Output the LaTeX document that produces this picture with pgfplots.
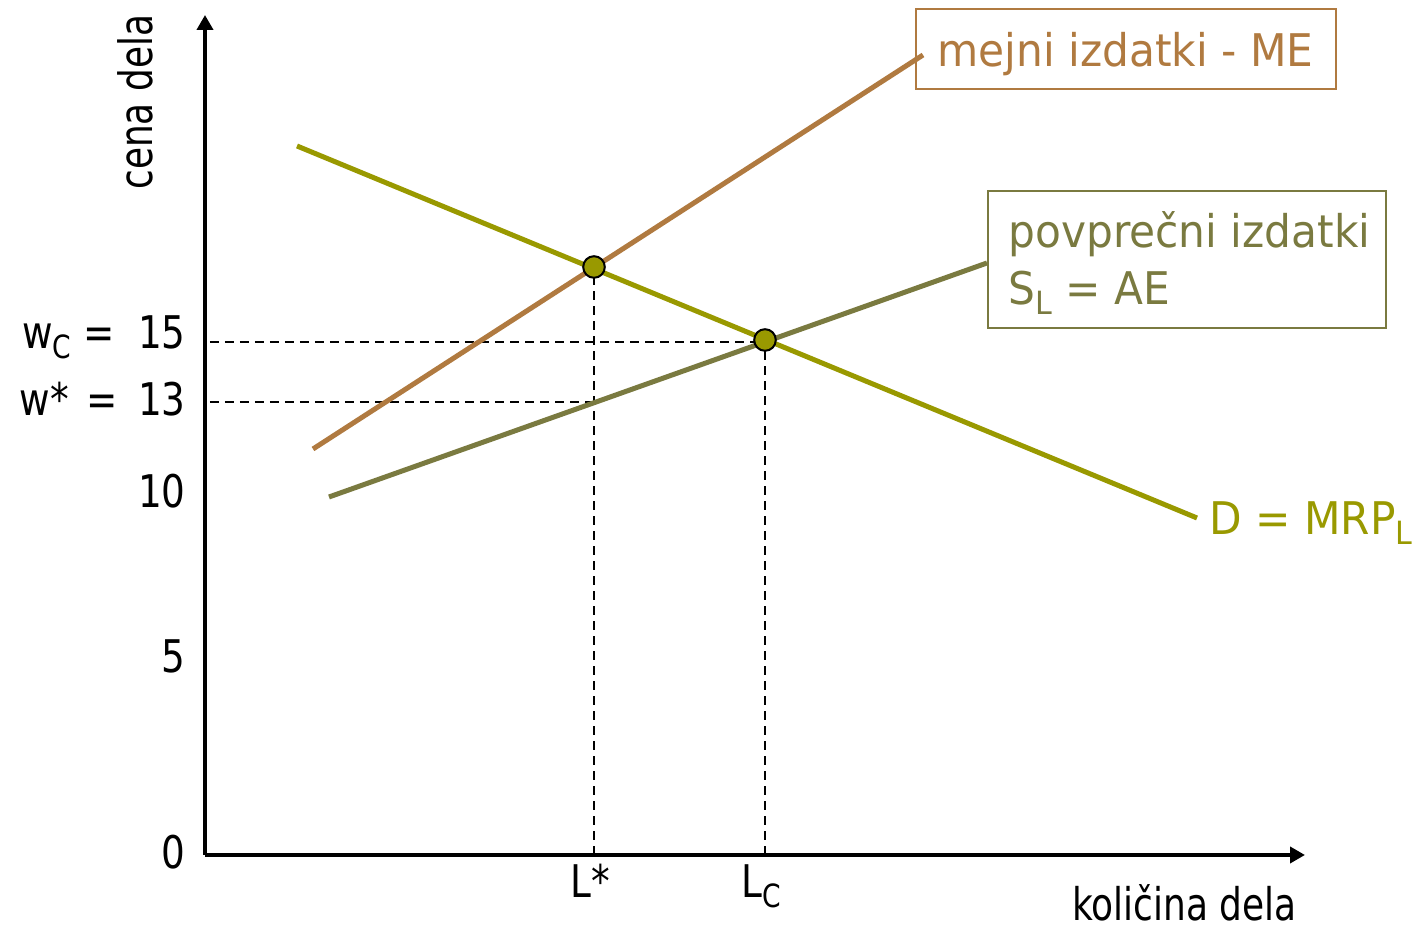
\documentclass[border=0pt]{standalone}
\usepackage{pgfplots}
\pgfplotsset{compat=1.18}
\usepackage{fontspec}
\usepackage{graphicx}
\setmainfont{DejaVu Sans}[FakeStretch=0.94]
\newfontfamily\tickfont{DejaVu Sans}[FakeStretch=0.83]
\usetikzlibrary{arrows.meta}
\definecolor{mrp}{RGB}{153,153,0}
\definecolor{me}{RGB}{176,122,64}
\definecolor{ae}{RGB}{122,122,64}
\newcommand\sub[1]{\raisebox{-5pt}{\fontsize{16}{16}\selectfont #1}}

\begin{document}
\begin{tikzpicture}[font=\fontsize{22.5}{27}\selectfont]
\begin{axis}[
  scale only axis,
  width=550pt, height=420pt,
  xmin=205, xmax=1305, ymin=74, ymax=914,
  axis x line=bottom, axis y line=left,
  axis line style={line width=2pt, -{Triangle[length=7.5pt,width=8pt]}},
  major tick length=0pt,
  xtick={594,765}, xticklabels={L*, L\sub{C}},
  xticklabel style={anchor=base, yshift=-21.5pt, xshift=-2pt, inner sep=0pt,
    font=\tickfont\fontsize{22.5}{27}\selectfont},
  ytick={77,273,438,530,597},
  yticklabels={0, 5, 10, w*\hspace{3pt} =\hspace{4pt} 13, w\sub{C} =\ \ 15},
  yticklabel style={anchor=east, inner sep=0pt, xshift=-9.5pt, text depth=0pt,
    font=\tickfont\fontsize{22.5}{27}\selectfont},
  clip=false,
]
% helper lines
\addplot[black, line width=1pt, dash pattern=on 4.5pt off 3pt] coordinates {(210,587) (765,587)};
\addplot[black, line width=1pt, dash pattern=on 4.5pt off 3pt] coordinates {(210,527) (594,527)};
\addplot[black, line width=1pt, dash pattern=on 4.5pt off 3pt] coordinates {(594,74) (594,662)};
\addplot[black, line width=1pt, dash pattern=on 4.5pt off 3pt] coordinates {(765,74) (765,589)};

% curves
\addplot[mrp, line width=2.5pt] coordinates {(297,783) (1197,411)};
\addplot[me, line width=2.5pt] coordinates {(313,480) (923,874)};
\addplot[ae, line width=2.5pt] coordinates {(329,432) (987,666)};

% equilibria
\addplot[only marks, mark=*, mark size=5.4pt, mark options={fill=mrp, draw=black, line width=1pt}]
  coordinates {(594,662) (765,589)};

% labels
\draw[me, line width=1pt] (axis cs:916,920) rectangle (axis cs:1336,840);
\node[me, anchor=base west, inner sep=0pt] at (axis cs:937,862) {mejni izdatki - ME};
\draw[ae, line width=1pt] (axis cs:988,738) rectangle (axis cs:1386,601);
\node[ae, anchor=base west, inner sep=0pt] at (axis cs:1008,681) {povprečni izdatki};
\node[ae, anchor=base west, inner sep=0pt] at (axis cs:1008,624) {S\sub{L} = AE};
\node[mrp, anchor=base west, inner sep=0pt] at (axis cs:1209,394) {D = MRP\sub{L}};

\node[rotate=90, anchor=base west, inner sep=0pt] at (axis cs:153,739)
  {\scalebox{0.83}[1]{\fontsize{23}{27}\selectfont cena dela}};
\node[anchor=base west, inner sep=0pt] at (axis cs:1072,8)
  {\scalebox{0.85}[1]{\fontsize{22.5}{27}\selectfont količina dela}};

\path (axis cs:0,0) rectangle (axis cs:1420,929);
\end{axis}
\end{tikzpicture}
\end{document}
